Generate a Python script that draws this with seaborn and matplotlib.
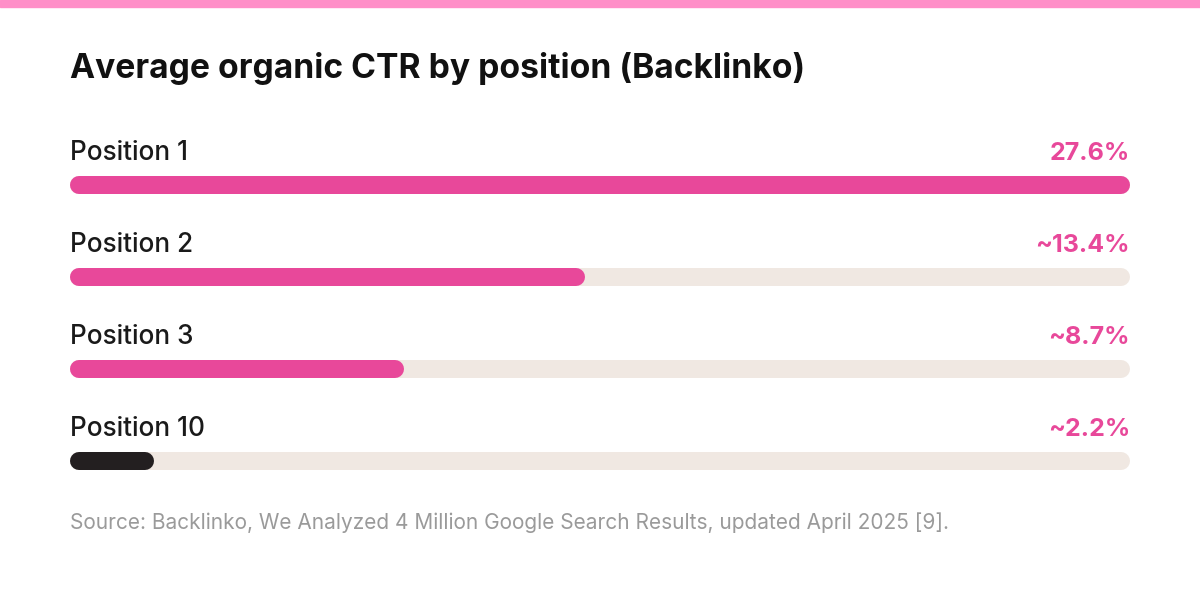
import matplotlib
matplotlib.use("Agg")
import matplotlib.pyplot as plt
import seaborn as sns
from matplotlib.patches import Rectangle

# data
positions = ["Position 1", "Position 2", "Position 3", "Position 10"]
ctr = [27.6, 13.4, 8.7, 2.2]
ctr_labels = ["27.6%", "~13.4%", "~8.7%", "~2.2%"]
bar_colors = ["#E8489A", "#E8489A", "#E8489A", "#231F20"]
scale_max = 27.6

title = "Average organic CTR by position (Backlinko)"
source = "Source: Backlinko, We Analyzed 4 Million Google Search Results, updated April 2025 [9]."

PINK = "#E8489A"
TRACK = "#F0E8E2"

sns.set_theme(style="white")
plt.rcParams["font.family"] = ["Inter", "DejaVu Sans"]

W, H = 1200, 609
fig = plt.figure(figsize=(W / 100, H / 100), dpi=100)
fig.patch.set_facecolor("white")

# top stripe
fig.patches.append(Rectangle((0, 1 - 7 / H), 1, 7 / H, transform=fig.transFigure,
                             color="#FF8FC8", zorder=0))

# axes: bar i centered at pixel 185 + 92*i
top_lim, bot_lim = -0.9, 3.5
ax_top_px = 185 + 92 * top_lim
ax_bot_px = 185 + 92 * bot_lim
ax = fig.add_axes([70 / W, 1 - ax_bot_px / H, 1060 / W, (ax_bot_px - ax_top_px) / H])

bw = 18 / 92
sns.barplot(x=[scale_max] * len(positions), y=positions, color=TRACK, width=bw,
            orient="h", ax=ax, saturation=1)
sns.barplot(x=ctr, y=positions, hue=positions, palette=bar_colors, width=bw,
            orient="h", ax=ax, saturation=1, legend=False)
ax.set_xlim(0, scale_max)
ax.set_ylim(bot_lim, top_lim)
ax.axis("off")

# swap the flat bars for round-capped strokes of the same extent
ux = scale_max / 1060
r = 9 * ux
for p in list(ax.patches):
    x, y, w, h = p.get_x(), p.get_y(), p.get_width(), p.get_height()
    fc = p.get_facecolor()
    p.remove()
    ax.plot([x + r, x + w - r], [y + h / 2] * 2, color=fc, lw=18 * 72 / 100,
            solid_capstyle="round")

for i, (lab, vl) in enumerate(zip(positions, ctr_labels)):
    ax.text(0, i - 0.27, lab, ha="left", va="baseline", fontsize=18.8,
            fontweight="medium", color="#1a1a1a")
    ax.text(scale_max, i - 0.27, vl, ha="right", va="baseline", fontsize=18,
            fontweight="bold", color=PINK)

fig.text(70 / W, 1 - 78 / H, title, ha="left", va="baseline", fontsize=24.2,
         fontweight="bold", color="#111111")
fig.text(70 / W, 1 - 529 / H, source, ha="left", va="baseline", fontsize=15,
         color="#9a9a9a")

fig.savefig("out.png", dpi=100, facecolor="white")
